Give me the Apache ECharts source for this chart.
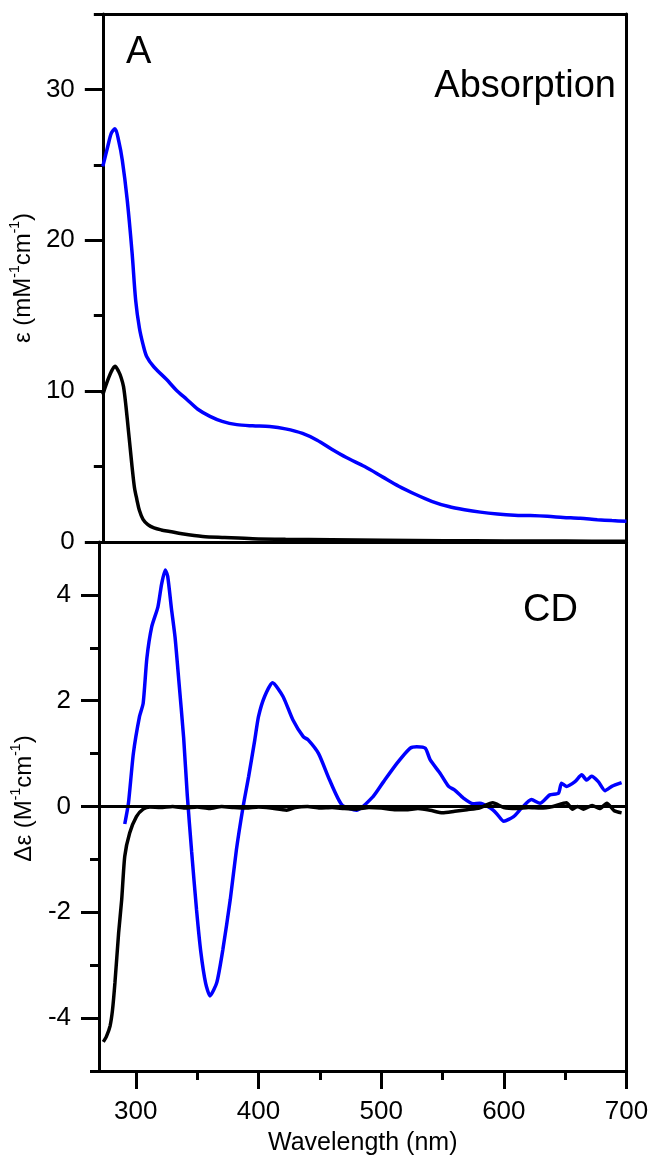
<!DOCTYPE html>
<html>
<head>
<meta charset="utf-8">
<script src="https://cdn.jsdelivr.net/npm/echarts@6/dist/echarts.min.js"></script>
<style>
html,body{margin:0;padding:0;background:#fff;}
#chart{width:655px;height:1162px;}
</style>
</head>
<body>
<div id="chart"></div>
<script>
// ---- Data ----
const wlAbsBlue = [270,274,277,280,283,286,290,294,297,300,303,306,312,322,330,339,348,358,368,380,393,407,420,434,446,458,470,485,500,513,527,540,554,567,580,594,608,621,635,648,662,676,688,700];
const absBlue   = [24.9,26.2,27.1,27.4,26.6,25.3,22.7,19.2,16.0,14.2,13.1,12.3,11.6,10.8,10.1,9.45,8.8,8.33,8.0,7.78,7.7,7.65,7.5,7.2,6.75,6.15,5.6,5.0,4.3,3.7,3.15,2.7,2.35,2.14,1.98,1.86,1.78,1.75,1.7,1.63,1.57,1.48,1.42,1.37];

const wlAbsBlack = [270,273,277,280,283,285,287,289,291,293,294,296,298,300,303,307,312,318,325,335,352,370,393,420,458,500,550,600,650,700];
const absBlack   = [9.77,10.5,11.3,11.65,11.3,10.9,10.3,9.0,7.4,5.8,5.0,3.6,2.8,2.1,1.5,1.15,0.93,0.8,0.7,0.55,0.37,0.3,0.22,0.18,0.15,0.12,0.09,0.07,0.06,0.05];

const wlCdBlue = [291,294,298,303,306,309,313,318,321,324,326,329,332,335,339,342,345.5,349.5,353,357,360.5,366,371,377,382,387.5,392,397,400,405,411.5,420,428,436.5,440.5,449,458,468,480,493.5,502,513,523.5,529,536,540,548,555,560,567,575,580.5,589,594,600,608,614.5,622.5,629.5,637.5,644.5,647,651,658,663.5,667.5,671.5,677,682.5,688,696];
const cdBlue   = [-0.33,0.06,1.0,1.7,1.95,2.8,3.4,3.77,4.2,4.47,4.35,3.75,3.2,2.4,1.3,0.2,-0.85,-1.95,-2.75,-3.35,-3.58,-3.33,-2.7,-1.76,-0.82,0.0,0.57,1.26,1.7,2.08,2.34,2.08,1.64,1.32,1.26,1.0,0.5,0.03,-0.07,0.19,0.47,0.82,1.1,1.13,1.1,0.88,0.63,0.38,0.31,0.16,0.05,0.06,-0.03,-0.13,-0.28,-0.19,-0.03,0.13,0.06,0.22,0.25,0.44,0.38,0.47,0.6,0.5,0.57,0.47,0.3,0.38,0.45];

const wlCdBlack = [273.5,276,279,281,283,286,288.5,291,295,300.5,306,311.5,320,330,340,350,360,370,380,390,400,410,423,430,440,450,460,470,480,490,500,512,520,530,540,550,560,570,580,591,600,610,620,630,640,651,656,660,665,672,678,684,690,696];
const cdBlack   = [-4.45,-4.35,-4.15,-3.85,-3.33,-2.39,-1.76,-0.94,-0.5,-0.19,-0.05,-0.01,-0.02,0.0,-0.03,-0.01,-0.04,0.0,-0.02,-0.03,-0.01,-0.03,-0.07,-0.02,0.0,-0.03,-0.02,-0.04,-0.05,-0.02,-0.03,-0.06,-0.06,-0.04,-0.07,-0.12,-0.09,-0.06,-0.03,0.07,-0.02,-0.04,-0.02,-0.03,0.0,0.07,-0.05,0.0,-0.05,0.02,-0.04,0.06,-0.08,-0.12];

const xMajorTicks = [300,400,500,600,700];
const xMinorTicks = [350,450,550,650];
const absMajorTicks = [0,10,20,30];
const absMinorTicks = [5,15,25,35];
const cdMajorTicks = [-4,-2,0,2,4];
const cdMinorTicks = [-5,-3,-1,1,3,5];

const panelLabels = {a: 'A', abs: 'Absorption', cd: 'CD'};

// ---- Build ----
const zip = (xs, ys) => xs.map((x, i) => [x, ys[i]]);
const FONT = "'Liberation Sans', Arial, sans-serif";
const LW = 3.5;

function xAxisLine(grid, position) {
  return {type: 'value', gridIndex: grid, min: 270, max: 700, position: position,
    axisLine: {show: true, onZero: false, lineStyle: {color: '#000', width: 3}},
    axisTick: {show: false}, axisLabel: {show: false}, splitLine: {show: false}};
}
function yAxisLine(grid, min, max, position) {
  return {type: 'value', gridIndex: grid, min: min, max: max, position: position,
    axisLine: {show: true, onZero: false, lineStyle: {color: '#000', width: 3}},
    axisTick: {show: false}, axisLabel: {show: false}, splitLine: {show: false}};
}
function minorAxis(base, ticks) {
  return Object.assign({}, base, {
    axisLine: {show: false, onZero: false},
    axisTick: {show: true, length: 9, customValues: ticks, lineStyle: {color: '#000', width: 3}},
    axisLabel: {show: false}, name: ''
  });
}

const supRich = {
  n: {fontSize: 24, fontFamily: FONT, color: '#000', lineHeight: 30},
  s: {fontSize: 14, fontFamily: FONT, color: '#000', verticalAlign: 'top', lineHeight: 30}
};
const tickFont = {fontSize: 26, fontFamily: FONT, color: '#000'};

const xMain = {type: 'value', gridIndex: 1, min: 270, max: 700, position: 'bottom',
  axisLine: {show: true, onZero: false, lineStyle: {color: '#000', width: 3}},
  axisTick: {show: true, length: 18, customValues: xMajorTicks, lineStyle: {color: '#000', width: 3}},
  axisLabel: Object.assign({show: true, customValues: xMajorTicks, margin: 28}, tickFont),
  splitLine: {show: false},
  name: 'Wavelength (nm)', nameLocation: 'middle', nameGap: 60,
  nameTextStyle: {fontSize: 25, fontFamily: FONT, color: '#000'}
};

const yAbs = {type: 'value', gridIndex: 0, min: 0, max: 35, position: 'left',
  axisLine: {show: true, onZero: false, lineStyle: {color: '#000', width: 3}},
  axisTick: {show: true, length: 18, customValues: absMajorTicks, lineStyle: {color: '#000', width: 3}},
  axisLabel: Object.assign({show: true, customValues: absMajorTicks, margin: 28}, tickFont),
  splitLine: {show: false},
  name: '{n|ε (mM}{s|-1}{n|cm}{s|-1}{n|)}', nameLocation: 'middle', nameGap: 60,
  nameTextStyle: {rich: supRich}
};

const yCd = {type: 'value', gridIndex: 1, min: -5, max: 5, position: 'left',
  axisLine: {show: true, onZero: false, lineStyle: {color: '#000', width: 3}},
  axisTick: {show: true, length: 18, customValues: cdMajorTicks, lineStyle: {color: '#000', width: 3}},
  axisLabel: Object.assign({show: true, customValues: cdMajorTicks, margin: 28}, tickFont),
  splitLine: {show: false},
  name: '{n|Δε (M}{s|-1}{n|cm}{s|-1}{n|)}', nameLocation: 'middle', nameGap: 60,
  nameTextStyle: {rich: supRich, padding: [0, 0, 0, 16]}
};

const option = {
  animation: false,
  backgroundColor: '#fff',
  grid: [
    {left: 99, right: 28.5, top: 14, height: 528},
    {left: 99, right: 28.5, top: 542, height: 529}
  ],
  xAxis: [
    xAxisLine(0, 'bottom'),
    xAxisLine(0, 'top'),
    xMain,
    minorAxis(xMain, xMinorTicks)
  ],
  yAxis: [
    yAbs,
    minorAxis(yAbs, absMinorTicks),
    yAxisLine(0, 0, 35, 'right'),
    yCd,
    minorAxis(yCd, cdMinorTicks),
    yAxisLine(1, -5, 5, 'right')
  ],
  graphic: [
    {type: 'text', left: 126, top: 34, style: {text: panelLabels.a, font: "38px " + FONT, fill: '#000'}},
    {type: 'text', right: 39, top: 68, style: {text: panelLabels.abs, font: "38px " + FONT, fill: '#000'}},
    {type: 'text', right: 77, top: 592, style: {text: panelLabels.cd, font: "38px " + FONT, fill: '#000'}}
  ],
  series: [
    {type: 'line', xAxisIndex: 0, yAxisIndex: 0, data: zip(wlAbsBlack, absBlack), showSymbol: false, smooth: 0.3,
      lineStyle: {color: '#000', width: LW}, z: 3},
    {type: 'line', xAxisIndex: 0, yAxisIndex: 0, data: zip(wlAbsBlue, absBlue), showSymbol: false, smooth: 0.3,
      lineStyle: {color: '#0000ff', width: LW}, z: 4},
    {type: 'line', xAxisIndex: 2, yAxisIndex: 3, data: zip(wlCdBlue, cdBlue), showSymbol: false, smooth: 0.2,
      lineStyle: {color: '#0000ff', width: LW}, z: 3},
    {type: 'line', xAxisIndex: 2, yAxisIndex: 3, data: zip(wlCdBlack, cdBlack), showSymbol: false, smooth: 0.2,
      lineStyle: {color: '#000', width: LW}, z: 4,
      markLine: {silent: true, symbol: 'none', label: {show: false},
        lineStyle: {color: '#000', width: 3, type: 'solid'}, data: [{yAxis: 0}]}}
  ]
};

const chart = echarts.init(document.getElementById('chart'), null, {renderer: 'canvas'});
chart.setOption(option);
</script>
</body>
</html>
